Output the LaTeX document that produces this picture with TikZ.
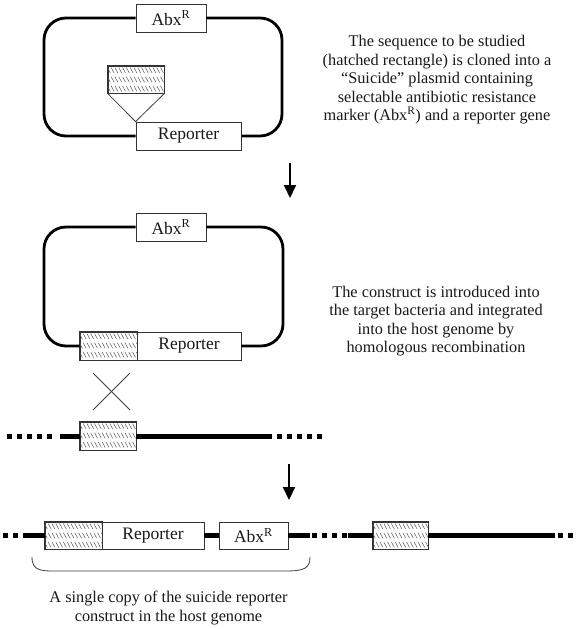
\documentclass[tikz,border=0pt]{standalone}
\usepackage{fontspec}
\setmainfont{Liberation Serif}
\usetikzlibrary{arrows.meta}
\newcommand{\hatchfill}[1]{%
  \begin{scope}
    \clip (#1.south west) rectangle (#1.north east);
    \foreach \rowk in {0,1,2}{
      \foreach \xx in {-4,-0.2,...,70}{
        \draw[hatchstroke] ([xshift=\xx pt, yshift={-(\rowk*9.2+2)*1pt}]#1.north west) -- ++(2.9pt,-5.4pt);
      }}
  \end{scope}
  \draw[geneborder] (#1.south west) rectangle (#1.north east);
}
\begin{document}
\begin{tikzpicture}[x=1pt,y=-1pt,
  every node/.style={font=\fontsize{16.3}{18.5}\selectfont, text=black!90},
  gene/.style={draw=black!80, line width=0.8pt, fill=white, inner sep=0pt,
    minimum height=28pt, minimum width=#1, font=\fontsize{17.5}{20}\selectfont},
  hatchbox/.style={gene=#1},
  geneborder/.style={draw=black!80, line width=0.8pt},
  hatchstroke/.style={line width=0.5pt, black!65},
  plasmid/.style={line width=2.8pt, rounded corners=22pt},
  chrom/.style={line width=5pt},
  dotline/.style={line width=5pt, dash pattern=on 5pt off 5pt},
  steparrow/.style={line width=2pt, -{Triangle[width=12pt,length=13pt]}},
  fineline/.style={line width=0.8pt, black!75},
]
\useasboundingbox (0,0) rectangle (580,629);
\fill[white] (0,0) rectangle (580,629);

% ---------- plasmid 1 ----------
\node[gene=70pt] (abx1) at (171,18) {Abx\textsuperscript{R}};
\node[gene=105pt] (rep1) at (188.5,136) {Reporter};
\node[hatchbox=56pt, minimum height=27pt] (ins1) at (136,79.5) {};
\hatchfill{ins1}
\coordinate (L1) at (44,80);
\coordinate (R1) at (282,80);
\draw[plasmid] (abx1.west) -| (L1) |- (rep1.west);
\draw[plasmid] (abx1.east) -| (R1) |- (rep1.east);
\draw[fineline] (ins1.south west) -- (rep1.north west) -- (ins1.south east);

\node[align=center] (t1) at (437,80) {The sequence to be studied\\(hatched rectangle) is cloned into a\\“Suicide” plasmid containing\\selectable antibiotic resistance\\marker (Abx\textsuperscript{R}) and a reporter gene};

% arrow 1
\coordinate (a1s) at (290,163);
\coordinate (a1e) at (290,198);
\draw[steparrow] (a1s) -- (a1e);

% ---------- plasmid 2 ----------
\node[gene=70pt] (abx2) at (171,227) {Abx\textsuperscript{R}};
\node[hatchbox=57pt] (hat2) at (108.5,346) {};
\hatchfill{hat2}
\node[gene=104pt] (rep2) at (189,346) {Reporter};
\coordinate (L2) at (44,290);
\coordinate (R2) at (283,290);
\draw[plasmid] (abx2.west) -| (L2) |- (hat2.west);
\draw[plasmid] (abx2.east) -| (R2) |- (rep2.east);

\node[align=center] (t2) at (436,321) {The construct is introduced into\\the target bacteria and integrated\\into the host genome by\\homologous recombination};

% crossover
\coordinate (x1) at (93,373);
\coordinate (x2) at (130,410);
\coordinate (x3) at (93,410);
\coordinate (x4) at (130,373);
\draw[fineline] (x1) -- (x2);
\draw[fineline] (x3) -- (x4);

% ---------- host genome ----------
\node[hatchbox=56pt] (hat3) at (108,436) {};
\hatchfill{hat3}
\coordinate (g1a) at (7,436);
\coordinate (g1b) at (56,436);
\coordinate (g1c) at (60,436);
\coordinate (g1d) at (272,436);
\coordinate (g1e) at (277,436);
\coordinate (g1f) at (323,436);
\draw[dotline] (g1a) -- (g1b);
\draw[chrom] (g1c) -- (hat3.west);
\draw[chrom] (hat3.east) -- (g1d);
\draw[dotline] (g1e) -- (g1f);

% arrow 2
\coordinate (a2s) at (289,464);
\coordinate (a2e) at (289,500);
\draw[steparrow] (a2s) -- (a2e);

% ---------- integrated ----------
\node[hatchbox=57pt, minimum height=27pt] (hat4) at (73.5,535.5) {};
\hatchfill{hat4}
\node[gene=102pt, minimum height=27pt] (rep4) at (153,535.5) {Reporter};
\node[gene=69pt, minimum height=27pt] (abx4) at (253.5,535.5) {Abx\textsuperscript{R}};
\node[hatchbox=55pt, minimum height=27pt] (hat5) at (400.5,535.5) {};
\hatchfill{hat5}
\coordinate (g2a) at (3,535.5);
\coordinate (g2b) at (18,535.5);
\coordinate (g2c) at (23,535.5);
\coordinate (g2d) at (310,535.5);
\coordinate (g2e) at (312,535.5);
\coordinate (g2f) at (347,535.5);
\coordinate (g2g) at (348,535.5);
\coordinate (g2h) at (555,535.5);
\coordinate (g2i) at (558,535.5);
\coordinate (g2j) at (573,535.5);
\draw[dotline] (g2a) -- (g2b);
\draw[chrom] (g2c) -- (hat4.west);
\draw[chrom] (rep4.east) -- (abx4.west);
\draw[chrom] (abx4.east) -- (g2d);
\draw[dotline] (g2e) -- (g2f);
\draw[chrom] (g2g) -- (hat5.west);
\draw[chrom] (hat5.east) -- (g2h);
\draw[dotline] (g2i) -- (g2j);

% brace
\coordinate (b1) at (32,557);
\coordinate (b2) at (310,557);
\draw[fineline] (b1) .. controls (32,572) and (42,571) .. (62,571) -- (285,571) .. controls (305,571) and (310,568) .. (b2);

\node[align=center] (t3) at (168.5,608) {A single copy of the suicide reporter\\construct in the host genome};
\end{tikzpicture}
\end{document}
